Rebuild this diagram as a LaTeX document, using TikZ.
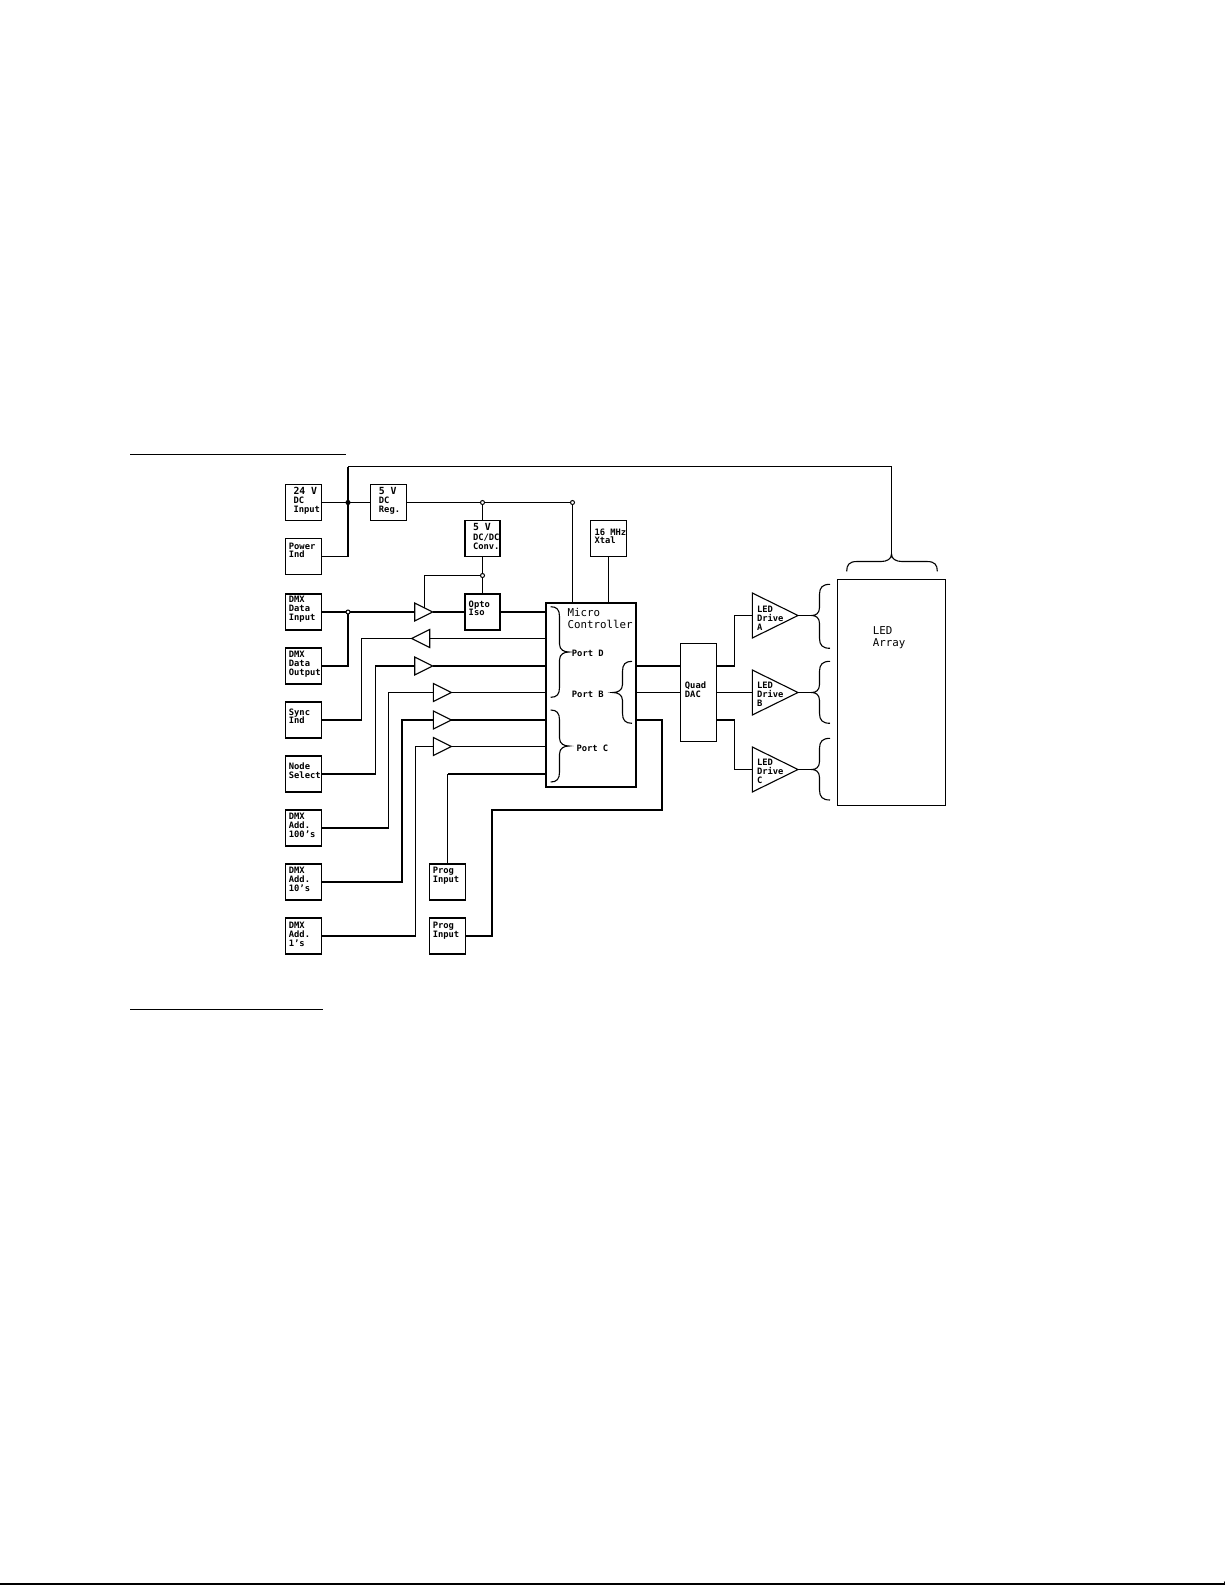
\documentclass[tikz,border=0pt]{standalone}
\usepackage{fontspec}
\setmainfont{DejaVu Sans Mono}
\usetikzlibrary{shapes.geometric}
\newcommand\fS{\fontsize{8.8}{9}\bfseries\selectfont}
\newcommand\fM{\fontsize{9.8}{9}\selectfont}
\newcommand\fL{\fontsize{10.8}{12}\selectfont}
% width, height, dx, first baseline offset, pitch, lines
\newcommand\intext[6]{\parbox[c][#2pt][t]{#1pt}{\leftskip=#3pt\rightskip=0pt plus 1fil\parindent=0pt\lineskiplimit=-20pt\baselineskip=#5pt\vspace*{\dimexpr#4pt-9pt\relax}\rule{0pt}{9pt}#6}}
% vertical brace: end x, body x, tip x, y1, yc, y2
\newcommand\vbrace[6]{\draw[thinw] (#1,#4) .. controls ({#2+0.3*(#1-#2)},#4) and (#2,{#4+3}) .. (#2,{#4+10}) -- (#2,{#5-8}) .. controls (#2,{#5-2}) and ({#2+0.5*(#3-#2)},#5) .. (#3,#5) .. controls ({#2+0.5*(#3-#2)},#5) and (#2,{#5+2}) .. (#2,{#5+8}) -- (#2,{#6-10}) .. controls (#2,{#6-3}) and ({#2+0.3*(#1-#2)},#6) .. (#1,#6);}
\tikzset{
  x=1pt,y=-1pt,
  thinw/.style={line width=1.1pt},
  thickw/.style={line width=2.2pt},
  bus/.style={line width=1.1pt,line join=miter},
  boxa/.style={draw,line width=1.1pt,rectangle,inner sep=0pt,outer sep=0pt,minimum width=36pt,minimum height=36pt,font=\fS},
  boxb/.style={boxa,line width=1.7pt},
  buf/.style={draw,line width=1.1pt,isosceles triangle,isosceles triangle stretches,inner sep=0pt,outer sep=0pt,minimum width=18pt,minimum height=18pt,anchor=apex},
  buflft/.style={buf,shape border rotate=180},
  drv/.style={draw,line width=1.1pt,isosceles triangle,isosceles triangle stretches,inner sep=0pt,outer sep=0pt,minimum width=45pt,minimum height=45.7pt,anchor=apex},
  lbl/.style={inner sep=0pt,outer sep=0pt,anchor=north west,align=left,font=\fS},
  jopen/.style={draw,circle,fill=white,line width=1pt,inner sep=0pt,minimum size=4pt},
  jfull/.style={jopen,fill=black},
  rule/.style={line width=1.1pt},
}
\begin{document}
\begin{tikzpicture}
\useasboundingbox (0,0) rectangle (1225,1585);
% page rules
\coordinate (ra) at (130,454.5); \coordinate (rb) at (346,454.5);
\coordinate (rc) at (130,1009.5); \coordinate (rd) at (323,1009.5);
\coordinate (re) at (0,1584); \coordinate (rf) at (1225,1584);
\coordinate (rg) at (1224.5,1581.5);
\draw[rule] (ra) -- (rb);
\draw[rule] (rc) -- (rd);
\draw[line width=2pt] (re) -- (rf);
\draw[rule] (rg) -- (rf);

% left column boxes
\node[boxa] (in24) at (303.5,502.5) {\intext{36}{36}{8}{10}{9.2}{{\fM 24 V}\\DC\\Input}};
\node[boxa] (pwr) at (303.5,556.5) {\intext{36}{36}{3.4}{10.7}{8}{Power\\Ind}};
\node[boxb] (dmxi) at (303.5,612) {\intext{36}{36}{3.4}{8}{9.3}{DMX\\Data\\Input}};
\node[boxb] (dmxo) at (303.5,666) {\intext{36}{36}{3.4}{9}{9.3}{DMX\\Data\\Output}};
\node[boxb] (sync) at (303.5,720) {\intext{36}{36}{3.4}{13.7}{8}{Sync\\Ind}};
\node[boxb] (node) at (303.5,774) {\intext{36}{36}{3.4}{13.6}{9.2}{Node\\Select}};
\node[boxb] (a100) at (303.5,828) {\intext{36}{36}{3.4}{9.7}{9}{DMX\\Add.\\100's}};
\node[boxb] (a10) at (303.5,882) {\intext{36}{36}{3.4}{9.3}{9}{DMX\\Add.\\10's}};
\node[boxb] (a1) at (303.5,936) {\intext{36}{36}{3.4}{10}{9}{DMX\\Add.\\1's}};
\node[boxb] (prog1) at (447.5,882) {\intext{36}{36}{3.3}{9}{9.5}{Prog\\Input}};
\node[boxb] (prog2) at (447.5,936) {\intext{36}{36}{3.3}{10}{9}{Prog\\Input}};

% upper boxes
\node[boxa] (reg) at (388.5,502.5) {\intext{36}{36}{8.4}{10}{9.2}{{\fM 5 V}\\DC\\Reg.}};
\node[boxa,minimum width=35pt] (conv) at (482.5,538.5) {\intext{35}{36}{8}{10.3}{9.2}{{\fM 5 V}\\DC/DC\\Conv.}};
\node[boxb,minimum width=35pt] (opto) at (482.5,612) {\intext{35}{36}{3.7}{13.7}{8}{Opto\\Iso}};
\node[boxa] (xtal) at (608.5,538.5) {\intext{36}{36}{4}{15}{8.3}{16 MHz\\Xtal}};

% microcontroller, DAC, array
\node[draw,line width=1.8pt,rectangle,inner sep=0pt,outer sep=0pt,minimum width=90.6pt,minimum height=184pt,font=\fL] (mc) at (591,695) {\intext{90.6}{184}{22}{13.3}{12.3}{Micro\\Controller}};
\node[boxa,minimum height=98pt] (dac) at (698.5,692.5) {\intext{36}{98}{4.4}{44.7}{9.3}{Quad\\DAC}};
\node[draw,line width=1.1pt,rectangle,inner sep=0pt,outer sep=0pt,minimum width=108pt,minimum height=226pt,font=\fL] (led) at (891.5,692.5) {\intext{108}{226}{35.4}{55}{11.7}{LED\\Array}};

% buffers
\node[buf] (b1) at (432.7,612) {};
\node[buflft] (b2) at (411.7,638.5) {};
\node[buf] (b3) at (432.7,666) {};
\node[buf] (b4) at (451.3,692.5) {};
\node[buf] (b5) at (451.3,720) {};
\node[buf] (b6) at (451.3,746.5) {};

% drivers
\node[drv] (da) at (798,615.5) {};
\node[drv] (db) at (798,692.5) {};
\node[drv] (dc) at (798,769.5) {};
\node[lbl] (dat) at (757,606) {LED\\Drive\\A};
\node[lbl] (dbt) at (757,682.3) {LED\\Drive\\B};
\node[lbl] (dct) at (757,759) {LED\\Drive\\C};

% port labels
\node[inner sep=0pt,anchor=base west,font=\fS] (pd) at (571.7,656.7) {Port D};
\node[inner sep=0pt,anchor=base west,font=\fS] (pb) at (571.7,697.3) {Port B};
\node[inner sep=0pt,anchor=base west,font=\fS] (pc) at (576.3,751.3) {Port C};

% junction dots (drawn over the wires below via the background-free order)
\coordinate (jc1) at (348,502.5);
\coordinate (jc2) at (482.5,502.5);
\coordinate (jc3) at (572.5,502.5);
\coordinate (jc4) at (482.5,575.5);
\coordinate (jc5) at (348,612);

% routing points
\coordinate (vtop) at (348,466.5);
\coordinate (vtr) at (891.5,466.5);
\coordinate (tipT) at (891.5,554);
\coordinate (vpwr) at (348,556.5);
\coordinate (cb1) at (424.5,575.5);
\coordinate (cb1d) at (424.5,607.5);
\coordinate (mcv) at (572.5,602.7);
\coordinate (xmc) at (608.5,602.7);
\coordinate (t2) at (361.5,638.5);
\coordinate (t2b) at (361.5,720);
\coordinate (t3) at (375,666);
\coordinate (t3a) at (375.5,666);
\coordinate (t3b) at (375.5,774);
\coordinate (t4) at (388.5,692.5);
\coordinate (t4b) at (388.5,828);
\coordinate (t5) at (402,720);
\coordinate (t5b) at (402,882);
\coordinate (t6) at (415.5,746.5);
\coordinate (t6b) at (415.5,936);
\coordinate (m1) at (545.7,612);
\coordinate (m2) at (545.7,638.5);
\coordinate (m3) at (545.7,666);
\coordinate (m4) at (545.7,692.5);
\coordinate (m5) at (545.7,720);
\coordinate (m6) at (545.7,746.5);
\coordinate (m7) at (545.7,774);
\coordinate (p7) at (447.5,774);
\coordinate (q1) at (492,936);
\coordinate (q2) at (492,810);
\coordinate (q3) at (662,810);
\coordinate (q4) at (662,720);
\coordinate (mr5) at (636.3,720);
\coordinate (mr3) at (636.3,666);
\coordinate (mr4) at (636.3,692.5);
\coordinate (dl3) at (680.5,666);
\coordinate (dl4) at (680.5,692.5);
\coordinate (dr3) at (716.5,666);
\coordinate (dr4) at (716.5,692.5);
\coordinate (dr5) at (716.5,720);
\coordinate (s3) at (734.5,666);
\coordinate (s3t) at (734.5,615.5);
\coordinate (s5) at (734.5,720);
\coordinate (s5b) at (734.5,769.5);
\coordinate (tipA) at (811.7,615.5);
\coordinate (tipB) at (811.7,692.5);
\coordinate (tipC) at (811.7,769.5);
\coordinate (dmxv) at (348,666);

% power
\draw[thickw] (vtop) -- (vpwr);
\draw[bus] (vtop) -- (vtr) -- (tipT);
\draw[bus] (pwr.east) -- (vpwr);
\draw[bus] (in24.east) -- (reg.west);
\draw[bus] (reg.east) -- (jc3) -- (mcv);
\draw[bus] (jc2) -- (conv.north);
\draw[bus] (conv.south) -- (opto.north);
\draw[bus] (jc4) -- (cb1) -- (cb1d);
\draw[bus] (xtal.south) -- (xmc);

% DMX
\draw[thickw] (dmxi.east) -- (b1.lower side);
\draw[thickw] (b1.apex) -- (opto.west);
\draw[thickw] (opto.east) -- (m1);
\draw[thickw,line join=miter] (jc5) -- (dmxv) -- (dmxo.east);

% buffered lines
\draw[bus] (m2) -- (b2.lower side);
\draw[bus] (b2.apex) -- (t2) -- (t2b);
\draw[thickw] (t2b) -- (sync.east);
\draw[thickw] (m3) -- (b3.apex);
\draw[thickw] (b3.lower side) -- (t3);
\draw[bus] (t3a) -- (t3b);
\draw[thickw] (t3b) -- (node.east);
\draw[bus] (m4) -- (b4.apex);
\draw[bus] (b4.lower side) -- (t4) -- (t4b);
\draw[thickw] (t4b) -- (a100.east);
\draw[thickw] (m5) -- (b5.apex);
\draw[thickw,line join=miter] (b5.lower side) -- (t5) -- (t5b) -- (a10.east);
\draw[bus] (m6) -- (b6.apex);
\draw[bus] (b6.lower side) -- (t6) -- (t6b);
\draw[thickw] (t6b) -- (a1.east);
\draw[thickw] (m7) -- (p7);
\draw[bus] (p7) -- (prog1.north);
\draw[thickw,line join=miter] (prog2.east) -- (q1) -- (q2) -- (q3) -- (q4) -- (mr5);

% DAC and drivers
\draw[thickw] (mr3) -- (dl3);
\draw[bus] (mr4) -- (dl4);
\draw[thickw] (dr3) -- (s3);
\draw[bus] (s3) -- (s3t) -- (da.lower side);
\draw[bus] (dr4) -- (db.lower side);
\draw[thickw] (dr5) -- (s5);
\draw[bus] (s5) -- (s5b) -- (dc.lower side);
\draw[bus] (da.apex) -- (tipA);
\draw[bus] (db.apex) -- (tipB);
\draw[bus] (dc.apex) -- (tipC);

% braces
\vbrace{830}{819.5}{811.7}{584.3}{615.5}{648.3}
\vbrace{830}{819.5}{811.7}{661.3}{692.5}{723.3}
\vbrace{830}{819.5}{811.7}{738.3}{769.5}{800}
\vbrace{550.7}{559.5}{569}{606.7}{652}{697.3}
\vbrace{550.7}{559.5}{569}{710}{746}{782}
\vbrace{632}{622.5}{612.7}{661.3}{692.5}{723.3}
% top brace
\draw[thinw] (846.7,571.3) .. controls (846.7,565) and (849,561.5) .. (857,561.5) -- (881,561.5) .. controls (887,561.5) and (891.5,559) .. (tipT) .. controls (891.5,559) and (896,561.5) .. (902,561.5) -- (927,561.5) .. controls (935,561.5) and (937.3,565) .. (937.3,571.3);

% junction dots
\node[jfull] (j1) at (jc1) {};
\node[jopen] (j2) at (jc2) {};
\node[jopen] (j3) at (jc3) {};
\node[jopen] (j4) at (jc4) {};
\node[jopen] (j5) at (jc5) {};
\end{tikzpicture}
\end{document}
